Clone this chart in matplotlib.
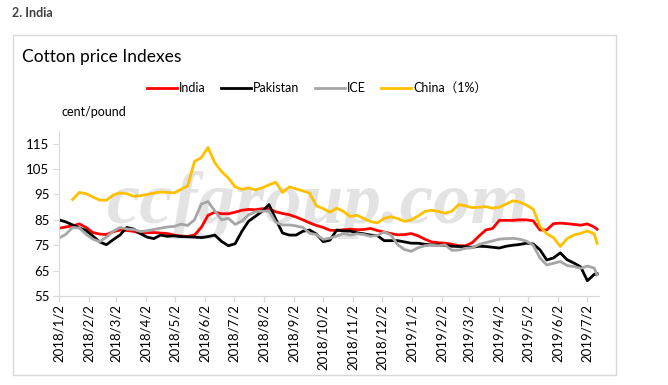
import matplotlib
matplotlib.use("Agg")
import matplotlib.pyplot as plt
import matplotlib.dates as mdates
import numpy as np
import pandas as pd
from matplotlib.patches import Rectangle

plt.rcParams['font.family'] = ['Lato', 'Noto Sans CJK SC', 'DejaVu Sans']

# ---------------- data (weekly readings, cent/pound) ----------------
start_date = '2018-01-02'
n_weeks = 80
last_date = '2019-07-12'

india = [81.7, 82.2, 82.6, 83.4, 82.0, 80.0, 79.4, 79.2, 80.3, 81.0,
         80.8, 80.5, 79.7, 79.9, 80.0, 79.8, 79.6, 79.0, 78.6, 78.5,
         79.0, 82.0, 86.8, 88.0, 87.4, 87.4, 88.0, 88.8, 89.1, 89.0,
         89.4, 89.3, 88.2, 87.5, 87.0, 86.1, 85.0, 83.8, 82.8, 82.0,
         80.9, 80.8, 81.1, 81.3, 81.1, 81.2, 81.6, 80.8, 80.2, 79.6,
         79.1, 79.2, 79.6, 78.7, 77.4, 76.3, 76.0, 75.8, 75.4, 74.8,
         74.8, 76.0, 78.6, 81.0, 81.6, 84.8, 84.8, 84.8, 85.0, 85.0,
         84.6, 81.0, 81.0, 83.5, 83.7, 83.5, 83.2, 82.9, 83.4, 82.2,
         81.3]

pakistan = [85.0, 84.2, 83.0, 81.8, 80.8, 78.6, 76.3, 75.2, 77.2, 79.0,
            82.0, 81.4, 79.6, 78.2, 77.6, 79.0, 78.5, 78.7, 78.4, 78.3,
            78.2, 78.0, 78.4, 79.0, 76.5, 74.8, 75.6, 80.5, 84.5, 86.4,
            88.4, 91.0, 85.2, 79.8, 79.0, 79.0, 80.5, 81.0, 79.4, 76.4,
            77.0, 81.0, 80.6, 80.6, 79.9, 79.5, 79.0, 78.8, 76.8, 76.8,
            76.8, 76.3, 75.8, 75.8, 75.4, 75.1, 75.1, 74.9, 74.6, 74.5,
            74.4, 74.2, 74.6, 74.5, 74.2, 73.9, 74.6, 75.0, 75.3, 75.8,
            75.5, 73.2, 69.2, 70.0, 72.0, 69.3, 68.0, 66.5, 61.0, 63.5,
            63.8]

ice = [77.8, 79.3, 82.0, 81.8, 79.3, 77.4, 76.4, 78.2, 80.5, 82.0,
       81.4, 81.2, 80.4, 80.7, 81.2, 81.7, 82.2, 82.4, 83.3, 82.8,
       85.0, 91.2, 92.2, 88.5, 85.0, 85.6, 83.2, 84.5, 87.0, 88.2,
       88.4, 88.5, 84.0, 83.0, 83.0, 82.6, 82.0, 79.7, 79.2, 77.3,
       77.8, 78.6, 79.6, 79.0, 79.5, 79.2, 78.5, 78.9, 80.2, 79.0,
       75.2, 73.3, 72.6, 74.0, 74.8, 75.0, 74.8, 75.1, 73.0, 73.1,
       73.8, 74.0, 75.3, 76.0, 76.7, 77.4, 77.6, 77.7, 77.4, 76.6,
       75.0, 70.0, 67.2, 67.9, 68.6, 67.0, 66.6, 65.9, 66.8, 66.0,
       63.3]

china = [np.nan, np.nan, 93.0, 95.8, 95.3, 94.0, 92.8, 92.7, 94.8, 95.6,
         95.3, 94.3, 94.5, 95.0, 95.5, 96.0, 95.8, 95.6, 97.0, 98.4,
         108.0, 109.5, 113.5, 107.5, 104.0, 101.5, 98.0, 97.0, 97.6, 96.8,
         97.6, 98.8, 99.8, 95.8, 98.0, 97.2, 96.4, 95.5, 90.5, 89.4,
         88.0, 89.6, 88.3, 86.3, 86.8, 85.5, 84.3, 83.8, 85.6, 86.2,
         85.5, 84.4, 85.0, 86.5, 88.3, 88.8, 88.3, 87.6, 88.4, 91.0,
         90.5, 89.8, 90.0, 90.2, 89.6, 90.0, 91.2, 92.5, 92.0, 90.8,
         89.2, 82.4, 79.5, 78.0, 74.5, 77.6, 79.0, 79.7, 80.6, 79.5,
         75.8]

series_names = ['India', 'Pakistan', 'ICE', 'China\uff081%\uff09']
series_colors = ['#ff0000', '#000000', '#a6a6a6', '#ffc000']

tick_labels = ['2018/1/2', '2018/2/2', '2018/3/2', '2018/4/2', '2018/5/2',
               '2018/6/2', '2018/7/2', '2018/8/2', '2018/9/2', '2018/10/2',
               '2018/11/2', '2018/12/2', '2019/1/2', '2019/2/2', '2019/3/2',
               '2019/4/2', '2019/5/2', '2019/6/2', '2019/7/2']
y_ticks = [55, 65, 75, 85, 95, 105, 115]

# ---------------- figure ----------------
dates = pd.date_range(start_date, periods=n_weeks, freq='7D').append(
    pd.DatetimeIndex([last_date]))

fig = plt.figure(figsize=(6.68, 3.85), dpi=100)
W, H = 668, 385

def fx(px):
    return px / W

def fy(py):
    return 1 - py / H

# outer frame
fig.patches.append(Rectangle((fx(13), fy(375)), fx(616) - fx(13), fy(35) - fy(375),
                             transform=fig.transFigure, fill=False,
                             edgecolor='#d9d9d9', linewidth=1.0, zorder=0))

fig.text(fx(12), fy(13), '2. India', fontsize=9, fontweight='bold',
         color='#404040', va='center', ha='left')
fig.text(fx(22), fy(57), 'Cotton price Indexes', fontsize=12.5,
         color='#000000', va='center', ha='left')
fig.text(fx(62), fy(112), 'cent/pound', fontsize=9, color='#000000',
         va='center', ha='left')

ax = fig.add_axes([fx(59), fy(296), fx(599) - fx(59), fy(131) - fy(296)])

# watermark
ax.text(0.48, 0.55, 'ccfgroup.com', transform=ax.transAxes, fontsize=54,
        family='Liberation Serif', style='italic', fontweight='bold',
        color='#e3e3e3', ha='center', va='center', zorder=0)

all_series = [india, pakistan, ice, china]
handles = []
for vals, name, col in zip(all_series, series_names, series_colors):
    h, = ax.plot(dates, vals, color=col, linewidth=2.0, label=name,
                 solid_joinstyle='round', zorder=2)
    handles.append(h)

ax.set_xlim(pd.Timestamp('2018-01-02'), pd.Timestamp('2019-07-14'))
ax.set_ylim(55, 120)
ax.set_yticks(y_ticks)
ax.set_yticklabels([str(v) for v in y_ticks])
tick_dates = [pd.Timestamp(t.replace('/', '-')) for t in tick_labels]
ax.set_xticks(tick_dates)
ax.set_xticklabels(tick_labels, rotation=90)

for s in ['top', 'right']:
    ax.spines[s].set_visible(False)
for s in ['left', 'bottom']:
    ax.spines[s].set_color('#d9d9d9')
    ax.spines[s].set_linewidth(0.8)
ax.tick_params(axis='both', colors='#d9d9d9', labelcolor='#000000',
               labelsize=9.5, length=4, width=0.8)
ax.tick_params(axis='x', pad=2)
ax.tick_params(axis='y', pad=3)

fig.legend(handles=handles, labels=series_names, loc='center',
           bbox_to_anchor=(fx(317), fy(88)), ncol=4, frameon=False,
           fontsize=9, handlelength=2.4, handletextpad=0.2,
           columnspacing=1.2, borderaxespad=0)

fig.savefig('out.png', dpi=100)
